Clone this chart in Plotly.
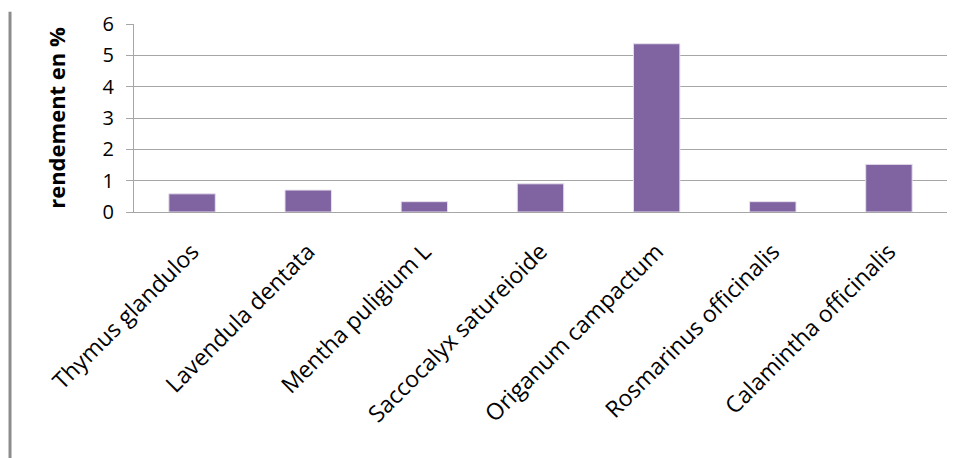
import plotly.graph_objects as go

categories = ["Thymus glandulos", "Lavendula dentata", "Mentha puligium L",
              "Saccocalyx satureioide", "Origanum campactum",
              "Rosmarinus officinalis", "Calamintha officinalis"]
rendement = [0.58, 0.70, 0.33, 0.90, 5.37, 0.33, 1.52]
y_ticks = [0, 1, 2, 3, 4, 5, 6]

FONT = "Open Sans"

fig = go.Figure()
fig.add_trace(go.Bar(
    x=categories, y=rendement,
    marker=dict(color="#8064A2", line=dict(color="#E6E0EC", width=1)),
))

fig.update_layout(
    width=959, height=458,
    margin=dict(l=134, r=12, t=24, b=246),
    paper_bgcolor="white", plot_bgcolor="white",
    bargap=0.6,
    showlegend=False,
    font=dict(family=FONT, color="black"),
    xaxis=dict(
        tickangle=-45,
        tickfont=dict(size=23, family=FONT),
        showline=True, linecolor="#A6A6A6", linewidth=1,
        ticks="", showgrid=False,
        ticklabelstandoff=16,
        automargin=False,
    ),
    yaxis=dict(
        range=[0, 6], tickvals=y_ticks,
        tickfont=dict(size=20, family=FONT),
        showline=True, linecolor="#A6A6A6", linewidth=1,
        ticks="outside", ticklen=7, tickcolor="#A6A6A6",
        ticklabelstandoff=8,
        showgrid=True, gridcolor="#A6A6A6", gridwidth=1,
        zeroline=False,
        automargin=False,
        title=dict(text="<b>rendement en %</b>", font=dict(size=22, family=FONT), standoff=30),
    ),
    shapes=[dict(type="line", xref="paper", yref="paper",
                 x0=-0.1525, x1=-0.1525, y0=1.065, y1=-1.35,
                 line=dict(color="#8C8C8C", width=3))],
)

fig.write_html("out.html")
